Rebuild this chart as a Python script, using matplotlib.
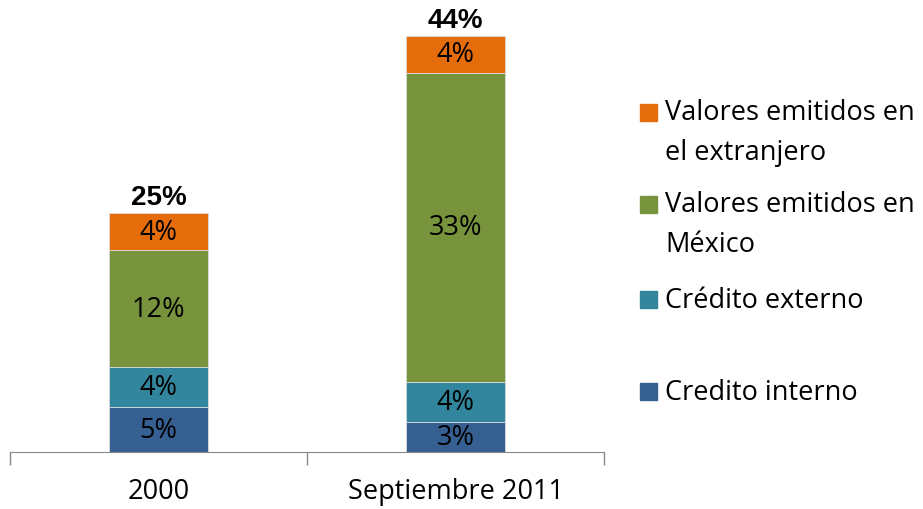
import numpy as np
import matplotlib
matplotlib.use("Agg")
import matplotlib.pyplot as plt
from matplotlib.patches import Rectangle

# data
categories = ["2000", "Septiembre 2011"]
series = ["Credito interno", "Crédito externo", "Valores emitidos en\nMéxico",
          "Valores emitidos en\nel extranjero"]
colors = ["#376092", "#31859C", "#77933C", "#E46C0A"]
credito_interno = [4.7, 3.1]
credito_externo = [4.2, 4.2]
valores_mexico = [12.2, 32.4]
valores_extranjero = [3.9, 3.8]
seg_labels = [["5%", "3%"], ["4%", "4%"], ["12%", "33%"], ["4%", "4%"]]
total_labels = ["25%", "44%"]

values = [credito_interno, credito_externo, valores_mexico, valores_extranjero]

plt.rcParams['font.family'] = ['Open Sans', 'DejaVu Sans']
fs = 19.5

fig = plt.figure(figsize=(9.23, 5.10), dpi=100)
ax = fig.add_axes([10/923, 1-453/510, 594/923, 430/510])

x = np.arange(len(categories))
bottom = np.zeros(len(categories))
for vals, col, labs in zip(values, colors, seg_labels):
    vals = np.asarray(vals)
    ax.bar(x, vals, 0.333, bottom=bottom, color=col, edgecolor="#dcdcdc", linewidth=0.6)
    for xi, b, v, lab in zip(x, bottom, vals, labs):
        ax.text(xi, b + v/2, lab, ha="center", va="center", fontsize=fs, color="black")
    bottom = bottom + vals

for xi, tot, lab in zip(x, bottom, total_labels):
    ax.text(xi, tot + 1.0, lab, ha="center", va="baseline", fontsize=20, fontweight="bold",
            family="Liberation Sans")

ax.set_xlim(-0.5, 1.5)
ax.set_ylim(0, 45)
for s in ["left", "right", "top"]:
    ax.spines[s].set_visible(False)
ax.spines["bottom"].set_color("#888888")
ax.set_yticks([])
ax.set_xticks([-0.5, 0.5, 1.5])
ax.set_xticklabels([])
ax.tick_params(axis="x", direction="out", length=9, color="#888888", width=1)
ax.set_xticks(x, minor=True)
ax.set_xticklabels(categories, minor=True, fontsize=fs)
ax.tick_params(axis="x", which="minor", length=0, pad=18)

# legend drawn by hand so the squares line up with the first text line
leg_y = [392, 300, 205, 113]
for name, col, yy in zip(series, colors, leg_y):
    fig.patches.append(Rectangle((640/923, 1-(yy+8.5)/510), 17/923, 17/510,
                                 transform=fig.transFigure, color=col))
    last = yy + 8 + 39 * name.count("\n")
    fig.text(665/923, 1-last/510, name, ha="left", va="baseline", fontsize=fs,
             linespacing=1.55)

fig.savefig("out.png", dpi=100)
